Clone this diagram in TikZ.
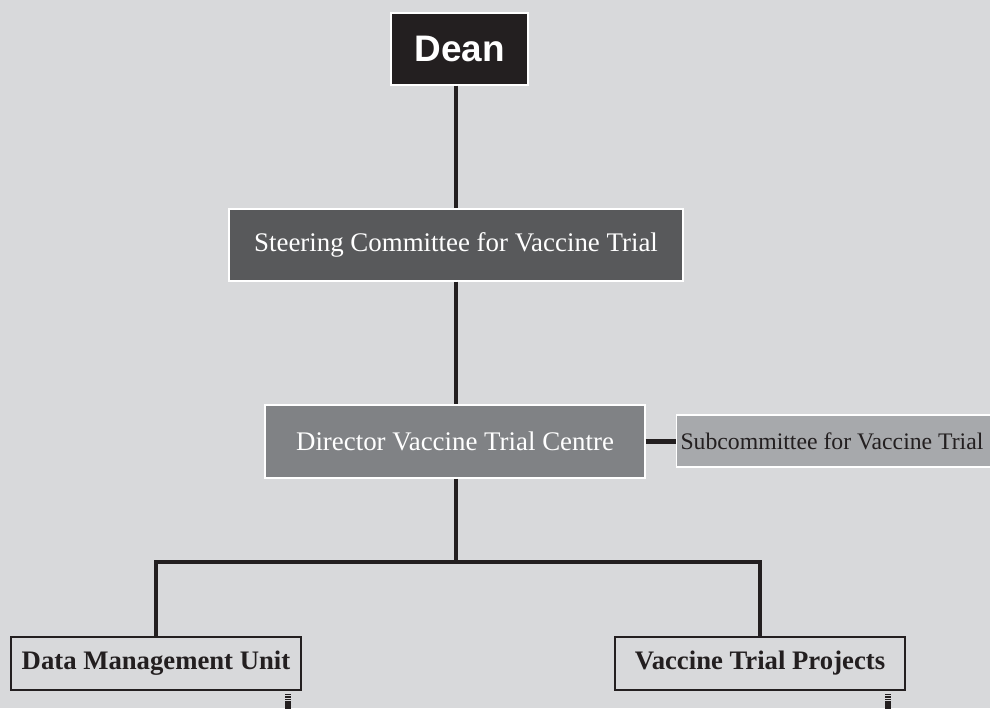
\documentclass[tikz,border=0pt]{standalone}
\usepackage{fontspec}
\setmainfont{Liberation Serif}
\newfontfamily\headfont{Liberation Sans}
\usetikzlibrary{shapes,arrows,positioning}
\definecolor{bggray}{RGB}{216,217,219}
\definecolor{deanblack}{RGB}{35,31,32}
\definecolor{steergray}{RGB}{88,89,91}
\definecolor{dirgray}{RGB}{128,130,133}
\definecolor{subgray}{RGB}{167,169,172}
\definecolor{linegray}{RGB}{35,31,32}

\begin{document}
\begin{tikzpicture}[
    box/.style={rectangle, draw=white, line width=0.6pt, align=center, text=white, minimum height=1.44cm},
    unit/.style={rectangle, draw=linegray, line width=1.2pt, align=center, minimum width=5.8cm, minimum height=1.06cm, font=\fontsize{15.2}{18}\selectfont\bfseries, text=deanblack},
    link/.style={draw=linegray, line width=2.8pt},
    stubline/.style={draw=deanblack, line width=3pt, dash pattern=on 0.7pt off 0.7pt},
    stubend/.style={draw=deanblack, line width=3pt}
]

% Background
\useasboundingbox (0,0) rectangle (19.8,14.16);
\clip (0,0) rectangle (19.8,14.16);
\fill[bggray] (0,0) rectangle (19.8,14.16);

% ------------------ Top ------------------
\node[box, fill=deanblack, minimum width=2.74cm, font=\headfont\fontsize{21}{24}\selectfont\bfseries] (dean) at (9.19,13.18) {Dean};

\node[box, fill=steergray, minimum width=9.08cm, font=\fontsize{15.3}{18}\selectfont] (steering) at (9.12,9.26) {Steering Committee for Vaccine Trial};

% ------------------ Centre ------------------
\node[box, fill=dirgray, minimum width=7.6cm, minimum height=1.46cm, font=\fontsize{15.3}{18}\selectfont] (director) at (9.1,5.33) {Director Vaccine Trial Centre};

\node[box, fill=subgray, text=deanblack, anchor=west, minimum height=1.04cm, inner xsep=0.08cm, font=\fontsize{13.5}{16}\selectfont] (sub) at (13.52,5.34) {\makebox[6.8cm][l]{Subcommittee for Vaccine Trial}};

% ------------------ Units ------------------
\node[unit] (dmu) at (3.12,0.89) {Data Management Unit};
\node[unit] (vtp) at (15.2,0.89) {Vaccine Trial Projects};

\coordinate (split) at (9.12,2.92);
\coordinate (dmuout) at (5.76,0.28);
\coordinate (dmumid) at (5.76,0.12);
\coordinate (dmuend) at (5.76,-0.1);
\coordinate (vtpout) at (17.76,0.28);
\coordinate (vtpmid) at (17.76,0.12);
\coordinate (vtpend) at (17.76,-0.1);

% ------------------ Lines ------------------
\draw[link] (steering.north |- dean.south) -- (steering.north);
\draw[link] (steering.south) -- (steering.south |- director.north);
\draw[link] (director.east) -- (director.east -| sub.west);
\draw[link] (split |- director.south) -- (split);
\draw[link] (split) -| (dmu.north);
\draw[link] (split) -| (vtp.north);

\draw[stubline] (dmuout) -- (dmumid);
\draw[stubend] (dmumid) -- (dmuend);
\draw[stubline] (vtpout) -- (vtpmid);
\draw[stubend] (vtpmid) -- (vtpend);

\end{tikzpicture}
\end{document}
